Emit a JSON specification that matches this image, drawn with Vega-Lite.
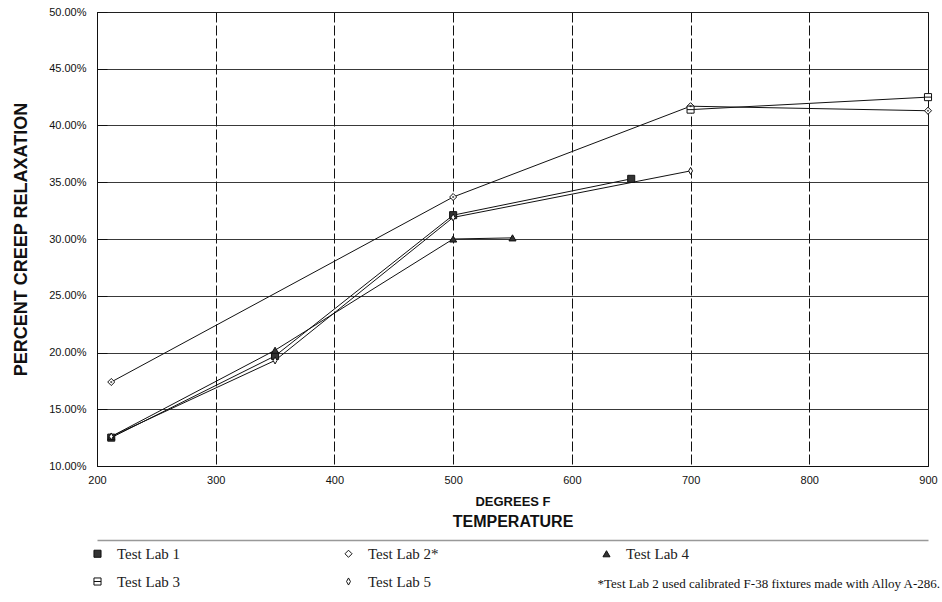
{
  "$schema": "https://vega.github.io/schema/vega-lite/v6.json",
  "width": 831,
  "height": 454,
  "autosize": "none",
  "padding": {"left": 97, "top": 12, "right": 14, "bottom": 136},
  "background": "white",
  "config": {
    "view": {"stroke": "#111", "strokeWidth": 1},
    "axis": {"labelFont": "Liberation Sans", "titleFont": "Liberation Sans", "labelColor": "#111", "titleColor": "#111"},
    "legend": {
      "title": null, "orient": "none", "legendX": -7, "legendY": 534,
      "columns": 3, "columnPadding": 160, "rowPadding": 12,
      "labelFont": "Liberation Serif", "labelFontSize": 15, "labelColor": "#222",
      "symbolSize": 50, "labelOffset": 12, "symbolStrokeWidth": 1
    }
  },
  "title": {
    "text": "*Test Lab 2 used calibrated F-38 fixtures made with Alloy A-286.",
    "orient": "bottom",
    "anchor": "end",
    "frame": "group",
    "font": "Liberation Serif",
    "fontSize": 13,
    "fontWeight": "normal",
    "color": "#111",
    "dx": 12,
    "dy": -16
  },
  "data": {
    "values": [
      {"lab": "Test Lab 1", "temp": 212, "relax": 0.125},
      {"lab": "Test Lab 1", "temp": 350, "relax": 0.197},
      {"lab": "Test Lab 1", "temp": 500, "relax": 0.321},
      {"lab": "Test Lab 1", "temp": 650, "relax": 0.353},
      {"lab": "Test Lab 2*", "temp": 212, "relax": 0.174},
      {"lab": "Test Lab 2*", "temp": 500, "relax": 0.337},
      {"lab": "Test Lab 2*", "temp": 700, "relax": 0.417},
      {"lab": "Test Lab 2*", "temp": 900, "relax": 0.413},
      {"lab": "Test Lab 3", "temp": 700, "relax": 0.414},
      {"lab": "Test Lab 3", "temp": 900, "relax": 0.425},
      {"lab": "Test Lab 4", "temp": 212, "relax": 0.126},
      {"lab": "Test Lab 4", "temp": 350, "relax": 0.202},
      {"lab": "Test Lab 4", "temp": 500, "relax": 0.300},
      {"lab": "Test Lab 4", "temp": 550, "relax": 0.301},
      {"lab": "Test Lab 5", "temp": 212, "relax": 0.126},
      {"lab": "Test Lab 5", "temp": 350, "relax": 0.193},
      {"lab": "Test Lab 5", "temp": 500, "relax": 0.319},
      {"lab": "Test Lab 5", "temp": 700, "relax": 0.360}
    ]
  },
  "resolve": {"axis": {"x": "independent"}},
  "layer": [
    {
      "mark": {"type": "line", "color": "#111", "strokeWidth": 1},
      "encoding": {
        "x": {
          "field": "temp", "type": "quantitative",
          "scale": {"domain": [200, 900], "nice": false, "zero": false},
          "axis": {
            "orient": "bottom",
            "title": "DEGREES F",
            "titleFontSize": 13, "titleFontWeight": "bold", "titlePadding": 10,
            "values": [200, 300, 400, 500, 600, 700, 800, 900],
            "labelFontSize": 11, "labelPadding": 8, "labelFlush": false,
            "ticks": false, "tickSize": 0,
            "domainColor": "#111",
            "grid": true, "gridColor": "#111", "gridWidth": 1, "gridDash": [10, 3]
          }
        },
        "y": {
          "field": "relax", "type": "quantitative",
          "scale": {"domain": [0.1, 0.5], "nice": false, "zero": false},
          "axis": {
            "title": "PERCENT CREEP RELAXATION",
            "titleFontSize": 18, "titleFontWeight": "bold", "titlePadding": 18,
            "values": [0.1, 0.125, 0.15, 0.175, 0.2, 0.225, 0.25, 0.275, 0.3, 0.325, 0.35, 0.375, 0.4, 0.425, 0.45, 0.475, 0.5],
            "labelExpr": "round(datum.value*1000) % 50 == 0 ? format(datum.value, '.2%') : ''",
            "labelFontSize": 11, "labelPadding": 21,
            "tickSize": -10, "tickColor": "#111",
            "domainColor": "#111",
            "grid": true, "gridColor": "#222", "gridWidth": 0.9,
            "gridOpacity": {"condition": {"test": "round(datum.value*1000) % 50 != 0", "value": 0}, "value": 1}
          }
        },
        "detail": {"field": "lab"}
      }
    },
    {
      "mark": {"type": "point", "filled": true, "strokeWidth": 1, "opacity": 1},
      "encoding": {
        "x": {
          "field": "temp", "type": "quantitative",
          "axis": {
            "orient": "bottom", "offset": 74, "title": null,
            "labels": false, "ticks": false, "grid": false,
            "domain": true, "domainColor": "#999", "domainWidth": 1.5
          }
        },
        "y": {"field": "relax", "type": "quantitative"},
        "shape": {
          "field": "lab", "type": "nominal",
          "scale": {
            "domain": ["Test Lab 1", "Test Lab 3", "Test Lab 2*", "Test Lab 5", "Test Lab 4"],
            "range": ["square", "M-1,-1H1V1H-1Z M-1,0H1", "diamond", "M0,-1L0.55,0L0,1L-0.55,0Z", "triangle-up"]
          }
        },
        "fill": {
          "field": "lab", "type": "nominal",
          "scale": {
            "domain": ["Test Lab 1", "Test Lab 3", "Test Lab 2*", "Test Lab 5", "Test Lab 4"],
            "range": ["#333", "white", "white", "white", "#333"]
          }
        },
        "stroke": {
          "field": "lab", "type": "nominal",
          "scale": {
            "domain": ["Test Lab 1", "Test Lab 3", "Test Lab 2*", "Test Lab 5", "Test Lab 4"],
            "range": ["#111", "#111", "#111", "#111", "#111"]
          }
        },
        "size": {"value": 50}
      }
    },
    {
      "transform": [{"filter": "datum.lab == 'Test Lab 2*'"}],
      "mark": {"type": "point", "filled": true, "color": "#111", "size": 5},
      "encoding": {
        "x": {
          "field": "temp", "type": "quantitative",
          "axis": {
            "orient": "bottom", "title": "TEMPERATURE",
            "titleFontSize": 16, "titleFontWeight": "bold", "titlePadding": 47,
            "labels": false, "ticks": false, "domain": false, "grid": false
          }
        },
        "y": {"field": "relax", "type": "quantitative"}
      }
    }
  ]
}
